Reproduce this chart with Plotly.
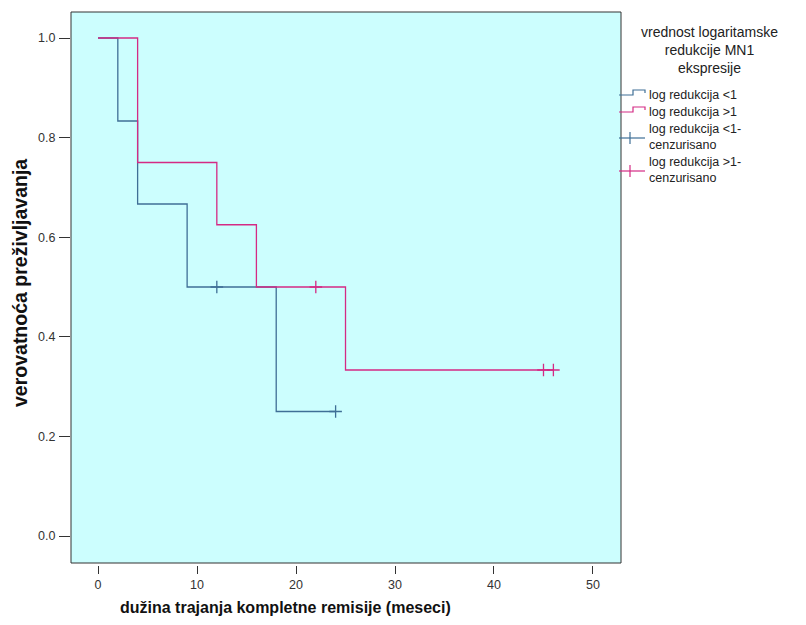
import plotly.graph_objects as go

# Kaplan-Meier step data
blue_t = [0, 2, 2, 4, 4, 9, 9, 18, 18, 24]
blue_s = [1.0, 1.0, 0.8333, 0.8333, 0.6667, 0.6667, 0.5, 0.5, 0.25, 0.25]
pink_t = [0, 4, 4, 12, 12, 16, 16, 25, 25, 46]
pink_s = [1.0, 1.0, 0.75, 0.75, 0.625, 0.625, 0.5, 0.5, 0.3333, 0.3333]

blue_cens_t = [12, 24]
blue_cens_s = [0.5, 0.25]
pink_cens_t = [22, 45, 46]
pink_cens_s = [0.5, 0.3333, 0.3333]

x_ticks = [0, 10, 20, 30, 40, 50]
y_ticks = [0.0, 0.2, 0.4, 0.6, 0.8, 1.0]

legend_title = ["vrednost logaritamske", "redukcije MN1", "ekspresije"]
legend_labels = ["log redukcija &lt;1", "log redukcija &gt;1",
                 "log redukcija &lt;1-<br>cenzurisano", "log redukcija &gt;1-<br>cenzurisano"]

BLUE = "#3f6f96"
PINK = "#d42a84"
W, H = 806, 625
L, R, T, B = 71, 185, 12, 60
PW = W - L - R
PH = H - T - B


def px(x):
    return (x - L) / PW


def py(y):
    return (H - B - y) / PH


fig = go.Figure()
fig.add_trace(go.Scatter(x=blue_t, y=blue_s, mode="lines", line=dict(color=BLUE, width=1.3),
                         name="log redukcija &lt;1", showlegend=False))
fig.add_trace(go.Scatter(x=pink_t, y=pink_s, mode="lines", line=dict(color=PINK, width=1.3),
                         name="log redukcija &gt;1", showlegend=False))
fig.add_trace(go.Scatter(x=blue_cens_t, y=blue_cens_s, mode="markers",
                         marker=dict(symbol="cross-thin", size=9, line=dict(color=BLUE, width=1.3)),
                         name="log redukcija &lt;1-cenzurisano", showlegend=False))
fig.add_trace(go.Scatter(x=pink_cens_t, y=pink_cens_s, mode="markers",
                         marker=dict(symbol="cross-thin", size=9, line=dict(color=PINK, width=1.3)),
                         name="log redukcija &gt;1-cenzurisano", showlegend=False))

shapes = [dict(type="rect", xref="x domain", yref="y domain", x0=0, x1=1, y0=0, y1=1,
               line=dict(color="#333", width=1), fillcolor="rgba(0,0,0,0)", layer="above")]
annotations = []

# manual legend (SPSS style icons)
step_rows = [(BLUE, 95), (PINK, 112)]
for col, yi in step_rows:
    path = (f"M {px(619)} {py(yi)} L {px(633)} {py(yi)} L {px(633)} {py(yi-5)} "
            f"L {px(645)} {py(yi-5)} L {px(645)} {py(yi-2)}")
    shapes.append(dict(type="path", xref="paper", yref="paper", path=path,
                       line=dict(color=col, width=1.2)))
cross_rows = [(BLUE, 138), (PINK, 171)]
for col, yc in cross_rows:
    shapes.append(dict(type="line", xref="paper", yref="paper", x0=px(619), x1=px(645),
                       y0=py(yc), y1=py(yc), line=dict(color=col, width=1.2)))
    shapes.append(dict(type="line", xref="paper", yref="paper", x0=px(630), x1=px(630),
                       y0=py(yc - 6), y1=py(yc + 6), line=dict(color=col, width=1.2)))

label_y = [95, 112, 137, 170]
for txt, yy in zip(legend_labels, label_y):
    annotations.append(dict(text=txt, xref="paper", yref="paper", x=px(648), y=py(yy),
                            xanchor="left", yanchor="middle", showarrow=False, align="left",
                            borderpad=0, font=dict(size=12.5, color="#222")))

annotations.append(dict(text="<br>".join(legend_title), xref="paper", yref="paper",
                        x=px(709), y=py(50), xanchor="center", yanchor="middle",
                        showarrow=False, align="center", borderpad=0,
                        font=dict(size=14, color="#222")))

annotations.append(dict(text="<b>dužina trajanja kompletne remisije (meseci)</b>",
                        xref="paper", yref="paper", x=px(285), y=py(607),
                        xanchor="center", yanchor="middle", showarrow=False,
                        font=dict(size=16, color="#111")))
annotations.append(dict(text="<b>verovatnoća preživljavanja</b>",
                        xref="paper", yref="paper", x=px(20), y=py(283),
                        xanchor="center", yanchor="middle", showarrow=False, textangle=-90,
                        font=dict(size=19.5, color="#111")))

fig.update_layout(
    width=W, height=H,
    margin=dict(l=L, r=R, t=T, b=B),
    paper_bgcolor="white",
    plot_bgcolor="#ccfefe",
    font=dict(family="Liberation Sans, Arial, sans-serif", size=12, color="#222"),
    showlegend=False,
    xaxis=dict(
        range=[-2.73, 52.83], tickvals=x_ticks, ticktext=[str(v) for v in x_ticks],
        showgrid=False, zeroline=False, showline=False,
        anchor="free", position=0,
        ticks="outside", ticklen=8, tickcolor="#333", tickwidth=1.2,
        tickfont=dict(size=12.5, color="#333"),
    ),
    yaxis=dict(
        domain=[2 / PH, 1],
        range=[-0.0542, 1.0522], tickvals=y_ticks, ticktext=[f"{v:.1f}" for v in y_ticks],
        showgrid=False, zeroline=False, showline=False,
        ticks="outside", ticklen=11, tickcolor="#333", tickwidth=1.2,
        tickfont=dict(size=12.5, color="#333"), ticklabelstandoff=1,
    ),
    shapes=shapes,
    annotations=annotations,
)

fig.write_html("out.html")
